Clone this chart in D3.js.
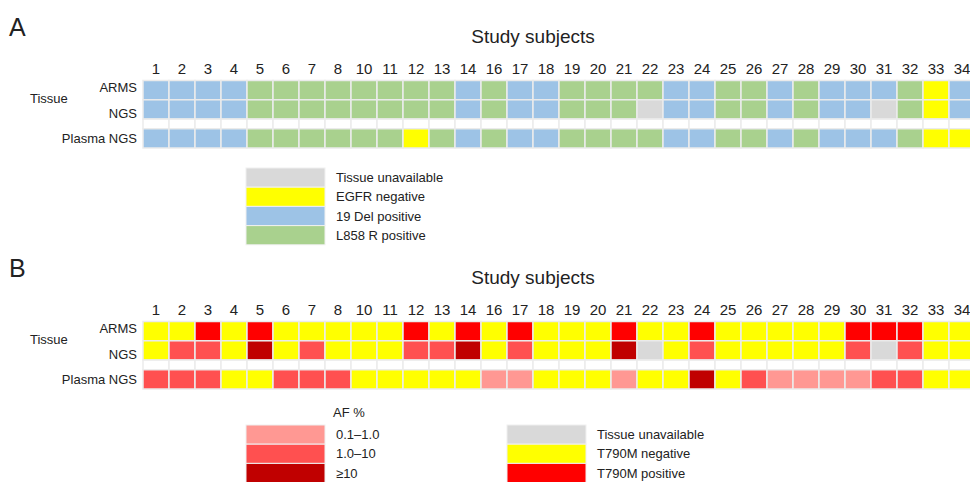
<!DOCTYPE html>
<html>
<head>
<meta charset="utf-8">
<script src="https://cdn.jsdelivr.net/npm/d3@7"></script>
<style>
  body { margin: 0; background: #fff; }
  text { font-family: "Liberation Sans", Arial, sans-serif; fill: #222; }
</style>
</head>
<body>
<script>
// subjects (9 and 15 are missing in the figure)
var subjects = [1,2,3,4,5,6,7,8,10,11,12,13,14,16,17,18,19,20,21,22,23,24,25,26,27,28,29,30,31,32,33,34];
var rowNames = ["ARMS", "NGS", "", "Plasma NGS"];

// panel A: B = 19 Del, G = L858R, Y = EGFR negative, U = tissue unavailable
var egfrArms   = "BBBBGGGGGGGGBGBBGGGGBBGGBGBBBGYB".split("");
var egfrNgs    = "BBBBGGGGGGGGBGBBGGGUBBGGBGBBUGYB".split("");
var egfrPlasma = "BBBBGGGGGGYGBGBBGGGGBBGGBGBBBGYY".split("");

// panel B: Y = T790M negative, R = positive, L = 0.1-1.0, M = 1.0-10, D = >=10, U = unavailable
var t790Arms   = "YYRYRYYYYYRYRYRYYYRYYRYYYYYRRRYY".split("");
var t790Ngs    = "YMMYDYMYYYMMDYMYYYDUYMYYYYYMUMYY".split("");
var t790Plasma = "MMMYYMMMYYYYYLLYYYLYYDYMLLLLMMYY".split("");

var legendA = ["Tissue unavailable", "EGFR negative", "19 Del positive", "L858 R positive"];
var legendAKeys = ["U", "Y", "B", "G"];
var afLabels = ["0.1\u20131.0", "1.0\u201310", "\u226510"];
var afKeys = ["L", "M", "D"];
var legendB = ["Tissue unavailable", "T790M negative", "T790M positive"];
var legendBKeys = ["U", "Y", "R"];

var colors = {
  B: "#9dc3e6", G: "#a9d18e", Y: "#ffff00", U: "#d9d9d9",
  R: "#ff0000", L: "#ff9893", M: "#ff5050", D: "#c00000", W: "#ffffff"
};

var w = 970, h = 482;
var svg = d3.select("body").append("svg").attr("width", w).attr("height", h);

var x = d3.scaleBand().domain(subjects).range([143, 143 + 26 * subjects.length]);

// row units: ARMS 0-1, NGS 1-2, blank 2-2.5, plasma 2.5-3.5
var rowStart = [0, 1, 2, 2.5];
var rowSize = [1, 1, 0.5, 1];

function panel(letter, top, rows) {
  var g = svg.append("g");
  var y = d3.scaleLinear().domain([0, 3.5]).range([top, top + 67.5]);

  g.append("text").attr("x", 9).attr("y", top - 45)
    .style("font-size", "25px").text(letter);
  g.append("text").attr("x", 533).attr("y", top - 38)
    .attr("text-anchor", "middle").style("font-size", "19px").text("Study subjects");

  g.selectAll(".num").data(subjects).enter().append("text")
    .attr("x", d => x(d) + x.bandwidth() / 2)
    .attr("y", top - 7)
    .attr("text-anchor", "middle").style("font-size", "15px")
    .text(d => d);

  rows.forEach(function(vals, r) {
    g.selectAll(".r" + r).data(subjects).enter().append("rect")
      .attr("x", d => x(d))
      .attr("y", y(rowStart[r]))
      .attr("width", x.bandwidth())
      .attr("height", y(rowSize[r]) - y(0))
      .attr("fill", (d, i) => colors[vals[i]])
      .attr("stroke", "#ebebeb")
      .attr("stroke-width", 1.5);
  });

  // row labels
  g.append("text").attr("x", 137).attr("y", y(0) + 11.5)
    .attr("text-anchor", "end").style("font-size", "13px").text(rowNames[0]);
  g.append("text").attr("x", 137).attr("y", y(2) - 1.5)
    .attr("text-anchor", "end").style("font-size", "13px").text(rowNames[1]);
  g.append("text").attr("x", 137).attr("y", y(3) + 5)
    .attr("text-anchor", "end").style("font-size", "13px").text(rowNames[3]);
  g.append("text").attr("x", 30).attr("y", y(1) + 3)
    .style("font-size", "13px").text("Tissue");
}

panel("A", 80.5, [egfrArms, egfrNgs, d3.range(subjects.length).map(() => "W"), egfrPlasma]);
panel("B", 321.5, [t790Arms, t790Ngs, d3.range(subjects.length).map(() => "W"), t790Plasma]);

// legends
function legend(x0, top, keys, labels) {
  var ly = d3.scaleBand().domain(d3.range(keys.length)).range([top, top + 19.2 * keys.length]);
  var g = svg.append("g");
  g.selectAll("rect").data(keys).enter().append("rect")
    .attr("x", x0).attr("y", (d, i) => ly(i))
    .attr("width", 79).attr("height", ly.bandwidth())
    .attr("fill", d => colors[d])
    .attr("stroke", "#f0f0f0").attr("stroke-width", 1);
  g.selectAll("text").data(labels).enter().append("text")
    .attr("x", x0 + 90).attr("y", (d, i) => ly(i) + ly.bandwidth() / 2 + 4.5)
    .style("font-size", "13px").text(d => d);
}

legend(246, 168, legendAKeys, legendA);
svg.append("text").attr("x", 333).attr("y", 417).style("font-size", "13px").text("AF %");
legend(246, 425, afKeys, afLabels);
legend(507, 425, legendBKeys, legendB);
</script>
</body>
</html>
